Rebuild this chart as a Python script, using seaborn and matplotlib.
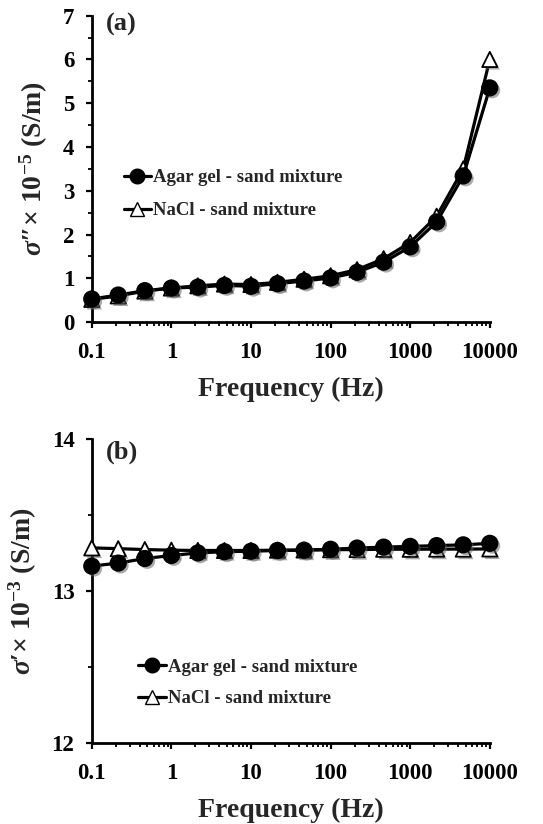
import matplotlib
matplotlib.use("Agg")
import matplotlib.pyplot as plt
import matplotlib.patheffects as pe
from matplotlib.lines import Line2D
from matplotlib.ticker import FixedLocator, FixedFormatter, LogLocator, MultipleLocator, NullFormatter
import seaborn as sns

# Measurement frequencies (Hz), three points per decade
freq = [0.1, 0.215, 0.464, 1, 2.15, 4.64, 10, 21.5, 46.4, 100,
        215, 464, 1000, 2150, 4640, 10000]

# (a) imaginary conductivity sigma'' (x 1e-5 S/m)
agar_imag = [0.53, 0.62, 0.72, 0.78, 0.80, 0.84, 0.82, 0.88, 0.94, 1.01,
             1.14, 1.37, 1.72, 2.29, 3.34, 5.35]
nacl_imag = [0.52, 0.60, 0.71, 0.78, 0.83, 0.87, 0.86, 0.91, 0.98, 1.06,
             1.20, 1.45, 1.82, 2.42, 3.50, 6.00]

# (b) real conductivity sigma' (x 1e-3 S/m)
agar_real = [13.165, 13.185, 13.215, 13.235, 13.252, 13.260, 13.263, 13.268,
             13.270, 13.276, 13.284, 13.290, 13.295, 13.300, 13.305, 13.315]
nacl_real = [13.285, 13.280, 13.274, 13.270, 13.268, 13.268, 13.268, 13.270,
             13.271, 13.273, 13.274, 13.276, 13.276, 13.277, 13.277, 13.278]

series_names = ["Agar gel - sand mixture", "NaCl - sand mixture"]
x_major = [0.1, 1, 10, 100, 1000, 10000]
x_tick_labels = ["0.1", "1", "10", "100", "1000", "10000"]

sns.set_style("ticks")
plt.rcParams["font.family"] = ["Liberation Serif", "DejaVu Serif"]
plt.rcParams["font.weight"] = "bold"
plt.rcParams["mathtext.fontset"] = "custom"
plt.rcParams["mathtext.rm"] = "Liberation Serif:bold"
plt.rcParams["mathtext.bf"] = "Liberation Serif:bold"
plt.rcParams["mathtext.it"] = "Liberation Serif:italic"

fig = plt.figure(figsize=(5.43, 8.24), dpi=100)
ax_a = fig.add_axes([0.169, 0.609, 0.733, 0.372])
ax_b = fig.add_axes([0.169, 0.098, 0.733, 0.369])

shadow = [pe.SimplePatchShadow(offset=(1.8, -1.8), shadow_rgbFace="0.4", alpha=0.55),
          pe.Normal()]


def draw_panel(ax, y_agar, y_nacl):
    # NaCl series underneath, agar series on top
    sns.lineplot(x=freq, y=y_nacl, ax=ax, color="black", linewidth=2.3, zorder=2)
    sns.scatterplot(x=freq, y=y_nacl, ax=ax, marker="^", s=120, facecolor="white",
                    edgecolor="black", linewidth=1.3, zorder=3, clip_on=False)
    sns.lineplot(x=freq, y=y_agar, ax=ax, color="black", linewidth=2.3, zorder=4)
    sns.scatterplot(x=freq, y=y_agar, ax=ax, marker="o", s=130, color="black",
                    edgecolor="black", linewidth=1.0, zorder=5, clip_on=False)
    for coll in ax.collections:
        coll.set_path_effects(shadow)
        coll.set_clip_on(False)

    ax.set_xscale("log")
    ax.set_xlim(0.1, 10000)
    ax.xaxis.set_major_locator(FixedLocator(x_major))
    ax.xaxis.set_major_formatter(FixedFormatter(x_tick_labels))
    ax.xaxis.set_minor_locator(LogLocator(base=10, subs=range(2, 10), numticks=20))
    ax.xaxis.set_minor_formatter(NullFormatter())

    sns.despine(ax=ax)
    for side in ("left", "bottom"):
        ax.spines[side].set_linewidth(2.0)
        ax.spines[side].set_color("black")
    ax.tick_params(which="major", direction="out", length=4.5, width=1.6,
                   labelsize=16.5, pad=8, colors="black")
    ax.tick_params(which="minor", direction="out", length=3, width=1.3, colors="black")
    ax.tick_params(axis="x", which="major", pad=10)
    ax.set_xlabel("Frequency (Hz)", fontsize=20, fontweight="bold", labelpad=10)

    handles = [
        Line2D([], [], color="black", linewidth=2.3, marker="o", markersize=10.5,
               markerfacecolor="black", markeredgecolor="black"),
        Line2D([], [], color="black", linewidth=2.3, marker="^", markersize=10,
               markerfacecolor="white", markeredgecolor="black"),
    ]
    return handles


h = draw_panel(ax_a, agar_imag, nacl_imag)
ax_a.set_ylim(0, 7)
ax_a.yaxis.set_major_locator(MultipleLocator(1))
ax_a.yaxis.set_minor_locator(MultipleLocator(0.5))
ax_a.set_ylabel("$\\sigma$\u2033\u00d7 10$^{-5}$ (S/m)", fontsize=20, fontweight="bold", labelpad=9)
ax_a.legend(h, series_names, loc="center left", bbox_to_anchor=(0.038, 0.417),
            frameon=False, handlelength=1.45, handletextpad=0.1, labelspacing=0.85,
            prop={"family": "Liberation Serif", "weight": "bold", "size": 13.5})
ax_a.text(0.035, 0.97, "(a)", transform=ax_a.transAxes, fontsize=19, fontweight="bold",
          ha="left", va="center")

h = draw_panel(ax_b, agar_real, nacl_real)
ax_b.set_ylim(12, 14)
ax_b.yaxis.set_major_locator(MultipleLocator(1))
ax_b.yaxis.set_minor_locator(MultipleLocator(0.5))
ax_b.set_ylabel("$\\sigma$\u2032\u00d7 10$^{-3}$ (S/m)", fontsize=20, fontweight="bold", labelpad=9)
ax_b.legend(h, series_names, loc="center left", bbox_to_anchor=(0.075, 0.199),
            frameon=False, handlelength=1.45, handletextpad=0.1, labelspacing=0.77,
            prop={"family": "Liberation Serif", "weight": "bold", "size": 13.5})
ax_b.text(0.035, 0.957, "(b)", transform=ax_b.transAxes, fontsize=19, fontweight="bold",
          ha="left", va="center")

fig.savefig("out.png", dpi=100)
